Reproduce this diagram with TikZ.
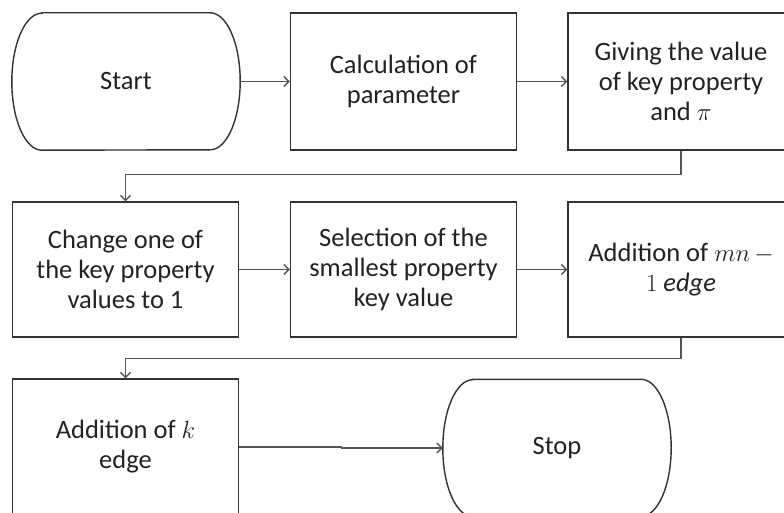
\documentclass[tikz,border=0pt]{standalone}
\usepackage{fontspec}
\setmainfont{Carlito}
\usetikzlibrary{arrows.meta}
\definecolor{bordercol}{HTML}{333333}
\definecolor{conncol}{HTML}{555555}
\definecolor{textcol}{HTML}{222222}
\begin{document}
\begin{tikzpicture}[x=1pt,y=-1pt,
  box/.style={draw=bordercol, line width=1.4pt, minimum width=226pt, minimum height=#1, inner sep=0pt,
    align=center, text=textcol, font=\fontsize{26.5}{30}\selectfont},
  box/.default=136pt,
  term/.style={draw=none, minimum width=228pt, minimum height=137pt, inner sep=0pt,
    align=center, text=textcol, font=\fontsize{26.5}{30}\selectfont},
  termline/.style={draw=bordercol, line width=1.4pt},
  conn/.style={draw=conncol, line width=1.4pt, -{Straight Barb[length=5pt,width=10pt]}}
]
\useasboundingbox (0,0) rectangle (784,513);
\fill[white] (0,0) rectangle (784,513);
\clip (0,0) rectangle (784,513);

% row 1
\node[term] (start) at (126,81.5) {Start};
\node[box=137pt] (calc) at (403.5,81.5) {Calculation of\\parameter};
\node[box=137pt] (give) at (681,81.5) {Giving the value\\of key property\\and $\pi$};
% row 2
\node[box=135pt] (change) at (125.5,269.5) {Change one of\\the key property\\values to 1};
\node[box=135pt] (sel) at (403.5,269.5) {Selection of the\\smallest property\\key value};
\node[box=135pt] (add) at (681,269.5) {Addition of $mn\,-$\\$1\ \mathit{edge}$};
% row 3
\node[box=136pt] (addk) at (125.5,447) {Addition of $k$\\edge};
\node[term] (stop) at (557,448) {Stop};

% terminator outlines
\draw[termline] ([xshift=30pt]start.north west) -- ([xshift=-30pt]start.north east)
  arc[start angle=90, end angle=-90, x radius=30pt, y radius=68.5pt]
  -- ([xshift=30pt]start.south west)
  arc[start angle=270, end angle=90, x radius=30pt, y radius=68.5pt] -- cycle;
\draw[termline] ([xshift=30pt]stop.north west) -- ([xshift=-30pt]stop.north east)
  arc[start angle=90, end angle=-90, x radius=30pt, y radius=68.5pt]
  -- ([xshift=30pt]stop.south west)
  arc[start angle=270, end angle=90, x radius=30pt, y radius=68.5pt] -- cycle;

% connectors
\draw[conn] (start) -- (calc);
\draw[conn] (calc) -- (give);
\draw[conn] (give.south) -- ++(0,24) -| (change.north);
\draw[conn] (change) -- (sel);
\draw[conn] (sel) -- (add);
\draw[conn] (add.south) -- ++(0,21) -| (addk.north);
\draw[conn] (addk.east) -- ++(102,0) |- (stop.west);
\end{tikzpicture}
\end{document}
